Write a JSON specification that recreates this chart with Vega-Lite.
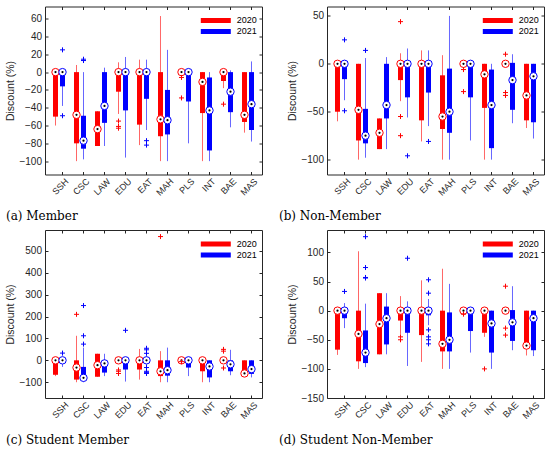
{
  "$schema": "https://vega.github.io/schema/vega-lite/v6.json",
  "background": "white",
  "padding": {"left": 5, "top": 5.5, "right": 5, "bottom": 2},
  "datasets": {
    "boxes": [
      {"p":"a","c":"SSH","y":"2020","lo":-60,"q1":-50,"md":0,"q3":0,"hi":0},
      {"p":"a","c":"SSH","y":"2021","lo":-38,"q1":-16,"md":0,"q3":0,"hi":0},
      {"p":"a","c":"CSC","y":"2020","lo":-100,"q1":-80,"md":-48,"q3":0,"hi":8},
      {"p":"a","c":"CSC","y":"2021","lo":-98,"q1":-86,"md":-77,"q3":-49,"hi":0},
      {"p":"a","c":"LAW","y":"2020","lo":-83,"q1":-83,"md":-64,"q3":-44,"hi":-44},
      {"p":"a","c":"LAW","y":"2021","lo":-83,"q1":-57,"md":-38,"q3":0,"hi":5},
      {"p":"a","c":"EDU","y":"2020","lo":-47,"q1":-22,"md":0,"q3":0,"hi":11},
      {"p":"a","c":"EDU","y":"2021","lo":-96,"q1":-43,"md":0,"q3":0,"hi":17},
      {"p":"a","c":"EAT","y":"2020","lo":-82,"q1":-59,"md":0,"q3":0,"hi":14},
      {"p":"a","c":"EAT","y":"2021","lo":-65,"q1":-30,"md":0,"q3":0,"hi":14},
      {"p":"a","c":"MAH","y":"2020","lo":-100,"q1":-72,"md":-53,"q3":0,"hi":63},
      {"p":"a","c":"MAH","y":"2021","lo":-100,"q1":-70,"md":-54,"q3":-20,"hi":25},
      {"p":"a","c":"PLS","y":"2020","lo":0,"q1":0,"md":0,"q3":0,"hi":0},
      {"p":"a","c":"PLS","y":"2021","lo":-80,"q1":-33,"md":0,"q3":0,"hi":0},
      {"p":"a","c":"INT","y":"2020","lo":-100,"q1":-46,"md":-11,"q3":0,"hi":0},
      {"p":"a","c":"INT","y":"2021","lo":-100,"q1":-88,"md":-43,"q3":-6,"hi":0},
      {"p":"a","c":"BAE","y":"2020","lo":-18,"q1":-10,"md":0,"q3":0,"hi":0},
      {"p":"a","c":"BAE","y":"2021","lo":-62,"q1":-45,"md":-22,"q3":0,"hi":2},
      {"p":"a","c":"MAS","y":"2020","lo":-68,"q1":-56,"md":-48,"q3":0,"hi":0},
      {"p":"a","c":"MAS","y":"2021","lo":-78,"q1":-65,"md":-36,"q3":0,"hi":12},

      {"p":"b","c":"SSH","y":"2020","lo":-60,"q1":-50,"md":0,"q3":0,"hi":0},
      {"p":"b","c":"SSH","y":"2021","lo":-38,"q1":-16,"md":0,"q3":0,"hi":0},
      {"p":"b","c":"CSC","y":"2020","lo":-100,"q1":-80,"md":-48,"q3":0,"hi":0},
      {"p":"b","c":"CSC","y":"2021","lo":-98,"q1":-83,"md":-75,"q3":-47,"hi":6},
      {"p":"b","c":"LAW","y":"2020","lo":-89,"q1":-89,"md":-72,"q3":-57,"hi":-57},
      {"p":"b","c":"LAW","y":"2021","lo":-89,"q1":-57,"md":-43,"q3":0,"hi":7},
      {"p":"b","c":"EDU","y":"2020","lo":-39,"q1":-17,"md":0,"q3":0,"hi":11},
      {"p":"b","c":"EDU","y":"2021","lo":-56,"q1":-35,"md":0,"q3":0,"hi":16},
      {"p":"b","c":"EAT","y":"2020","lo":-81,"q1":-59,"md":0,"q3":0,"hi":14},
      {"p":"b","c":"EAT","y":"2021","lo":-65,"q1":-30,"md":0,"q3":0,"hi":14},
      {"p":"b","c":"MAH","y":"2020","lo":-100,"q1":-68,"md":-55,"q3":-12,"hi":9},
      {"p":"b","c":"MAH","y":"2021","lo":-100,"q1":-72,"md":-50,"q3":-5,"hi":50},
      {"p":"b","c":"PLS","y":"2020","lo":0,"q1":0,"md":0,"q3":0,"hi":0},
      {"p":"b","c":"PLS","y":"2021","lo":-80,"q1":-35,"md":0,"q3":0,"hi":0},
      {"p":"b","c":"INT","y":"2020","lo":-100,"q1":-46,"md":-11,"q3":0,"hi":0},
      {"p":"b","c":"INT","y":"2021","lo":-100,"q1":-88,"md":-43,"q3":-6,"hi":0},
      {"p":"b","c":"BAE","y":"2020","lo":0,"q1":0,"md":0,"q3":0,"hi":0},
      {"p":"b","c":"BAE","y":"2021","lo":-62,"q1":-48,"md":-17,"q3":1,"hi":10},
      {"p":"b","c":"MAS","y":"2020","lo":-67,"q1":-59,"md":-33,"q3":0,"hi":0},
      {"p":"b","c":"MAS","y":"2021","lo":-78,"q1":-61,"md":-13,"q3":0,"hi":0},

      {"p":"c","c":"SSH","y":"2020","lo":-72,"q1":-66,"md":0,"q3":0,"hi":0},
      {"p":"c","c":"SSH","y":"2021","lo":-30,"q1":-10,"md":0,"q3":0,"hi":10},
      {"p":"c","c":"CSC","y":"2020","lo":-100,"q1":-88,"md":-33,"q3":0,"hi":112},
      {"p":"c","c":"CSC","y":"2021","lo":-100,"q1":-90,"md":-80,"q3":-30,"hi":58},
      {"p":"c","c":"LAW","y":"2020","lo":-75,"q1":-75,"md":-22,"q3":30,"hi":30},
      {"p":"c","c":"LAW","y":"2021","lo":-72,"q1":-56,"md":-14,"q3":0,"hi":30},
      {"p":"c","c":"EDU","y":"2020","lo":0,"q1":0,"md":0,"q3":0,"hi":0},
      {"p":"c","c":"EDU","y":"2021","lo":-97,"q1":-42,"md":0,"q3":0,"hi":5},
      {"p":"c","c":"EAT","y":"2020","lo":-88,"q1":-42,"md":0,"q3":0,"hi":52},
      {"p":"c","c":"EAT","y":"2021","lo":-25,"q1":-8,"md":0,"q3":0,"hi":20},
      {"p":"c","c":"MAH","y":"2020","lo":-100,"q1":-72,"md":-50,"q3":0,"hi":42},
      {"p":"c","c":"MAH","y":"2021","lo":-100,"q1":-70,"md":-45,"q3":0,"hi":58},
      {"p":"c","c":"PLS","y":"2020","lo":0,"q1":0,"md":0,"q3":0,"hi":0},
      {"p":"c","c":"PLS","y":"2021","lo":-72,"q1":-33,"md":0,"q3":0,"hi":0},
      {"p":"c","c":"INT","y":"2020","lo":-100,"q1":-50,"md":0,"q3":0,"hi":0},
      {"p":"c","c":"INT","y":"2021","lo":-100,"q1":-78,"md":-28,"q3":0,"hi":0},
      {"p":"c","c":"BAE","y":"2020","lo":0,"q1":0,"md":0,"q3":0,"hi":0},
      {"p":"c","c":"BAE","y":"2021","lo":-68,"q1":-50,"md":-18,"q3":0,"hi":48},
      {"p":"c","c":"MAS","y":"2020","lo":-60,"q1":-60,"md":-60,"q3":0,"hi":0},
      {"p":"c","c":"MAS","y":"2021","lo":-78,"q1":-62,"md":-40,"q3":0,"hi":0},

      {"p":"d","c":"SSH","y":"2020","lo":-76,"q1":-67,"md":0,"q3":0,"hi":0},
      {"p":"d","c":"SSH","y":"2021","lo":-30,"q1":-13,"md":0,"q3":0,"hi":13},
      {"p":"d","c":"CSC","y":"2020","lo":-100,"q1":-87,"md":-40,"q3":0,"hi":102},
      {"p":"d","c":"CSC","y":"2021","lo":-97,"q1":-90,"md":-72,"q3":-34,"hi":12},
      {"p":"d","c":"LAW","y":"2020","lo":-75,"q1":-75,"md":-23,"q3":30,"hi":30},
      {"p":"d","c":"LAW","y":"2021","lo":-75,"q1":-58,"md":-13,"q3":7,"hi":30},
      {"p":"d","c":"EDU","y":"2020","lo":-40,"q1":-17,"md":0,"q3":0,"hi":25},
      {"p":"d","c":"EDU","y":"2021","lo":-95,"q1":-38,"md":0,"q3":0,"hi":16},
      {"p":"d","c":"EAT","y":"2020","lo":-88,"q1":-42,"md":0,"q3":0,"hi":52},
      {"p":"d","c":"EAT","y":"2021","lo":-25,"q1":-8,"md":0,"q3":0,"hi":20},
      {"p":"d","c":"MAH","y":"2020","lo":-100,"q1":-70,"md":-57,"q3":0,"hi":72},
      {"p":"d","c":"MAH","y":"2021","lo":-100,"q1":-70,"md":-50,"q3":-3,"hi":46},
      {"p":"d","c":"PLS","y":"2020","lo":0,"q1":0,"md":0,"q3":0,"hi":0},
      {"p":"d","c":"PLS","y":"2021","lo":-72,"q1":-35,"md":0,"q3":0,"hi":0},
      {"p":"d","c":"INT","y":"2020","lo":-45,"q1":-38,"md":0,"q3":0,"hi":0},
      {"p":"d","c":"INT","y":"2021","lo":-100,"q1":-72,"md":-22,"q3":0,"hi":0},
      {"p":"d","c":"BAE","y":"2020","lo":0,"q1":0,"md":0,"q3":0,"hi":0},
      {"p":"d","c":"BAE","y":"2021","lo":-68,"q1":-52,"md":-20,"q3":1,"hi":42},
      {"p":"d","c":"MAS","y":"2020","lo":-77,"q1":-60,"md":-60,"q3":0,"hi":0},
      {"p":"d","c":"MAS","y":"2021","lo":-78,"q1":-68,"md":-13,"q3":0,"hi":0}
    ],
    "outliers": [
      {"p":"a","c":"SSH","y":"2021","v":25},
      {"p":"a","c":"SSH","y":"2021","v":-49},
      {"p":"a","c":"CSC","y":"2021","v":13},
      {"p":"a","c":"CSC","y":"2021","v":14.5},
      {"p":"a","c":"EDU","y":"2020","v":-55},
      {"p":"a","c":"EDU","y":"2020","v":-61},
      {"p":"a","c":"EDU","y":"2020","v":-63},
      {"p":"a","c":"EAT","y":"2021","v":-77},
      {"p":"a","c":"EAT","y":"2021","v":-82},
      {"p":"a","c":"PLS","y":"2020","v":-6},
      {"p":"a","c":"PLS","y":"2020","v":-29},
      {"p":"a","c":"BAE","y":"2020","v":-36},

      {"p":"b","c":"SSH","y":"2021","v":25},
      {"p":"b","c":"SSH","y":"2021","v":-49},
      {"p":"b","c":"CSC","y":"2021","v":14},
      {"p":"b","c":"EDU","y":"2020","v":44},
      {"p":"b","c":"EDU","y":"2020","v":-55},
      {"p":"b","c":"EDU","y":"2020","v":-75},
      {"p":"b","c":"EDU","y":"2021","v":-96},
      {"p":"b","c":"EAT","y":"2021","v":-81},
      {"p":"b","c":"PLS","y":"2020","v":-6},
      {"p":"b","c":"PLS","y":"2020","v":-29},
      {"p":"b","c":"BAE","y":"2020","v":10},
      {"p":"b","c":"BAE","y":"2020","v":-30},
      {"p":"b","c":"BAE","y":"2020","v":-33},

      {"p":"c","c":"SSH","y":"2021","v":33},
      {"p":"c","c":"CSC","y":"2020","v":210},
      {"p":"c","c":"CSC","y":"2021","v":250},
      {"p":"c","c":"CSC","y":"2021","v":112},
      {"p":"c","c":"CSC","y":"2021","v":74},
      {"p":"c","c":"EDU","y":"2020","v":-44},
      {"p":"c","c":"EDU","y":"2020","v":-50},
      {"p":"c","c":"EDU","y":"2020","v":-60},
      {"p":"c","c":"EDU","y":"2021","v":137},
      {"p":"c","c":"EAT","y":"2021","v":55},
      {"p":"c","c":"EAT","y":"2021","v":48},
      {"p":"c","c":"EAT","y":"2021","v":32},
      {"p":"c","c":"EAT","y":"2021","v":-33},
      {"p":"c","c":"EAT","y":"2021","v":-50},
      {"p":"c","c":"EAT","y":"2021","v":-55},
      {"p":"c","c":"EAT","y":"2021","v":-60},
      {"p":"c","c":"MAH","y":"2020","v":565},
      {"p":"c","c":"PLS","y":"2020","v":-6},
      {"p":"c","c":"BAE","y":"2020","v":50},
      {"p":"c","c":"BAE","y":"2020","v":42},
      {"p":"c","c":"BAE","y":"2020","v":-35},

      {"p":"d","c":"SSH","y":"2021","v":33},
      {"p":"d","c":"CSC","y":"2021","v":127},
      {"p":"d","c":"CSC","y":"2021","v":74},
      {"p":"d","c":"CSC","y":"2021","v":56},
      {"p":"d","c":"CSC","y":"2021","v":57},
      {"p":"d","c":"EDU","y":"2020","v":-45},
      {"p":"d","c":"EDU","y":"2020","v":-50},
      {"p":"d","c":"EDU","y":"2021","v":90},
      {"p":"d","c":"EAT","y":"2021","v":53},
      {"p":"d","c":"EAT","y":"2021","v":30},
      {"p":"d","c":"EAT","y":"2021","v":-33},
      {"p":"d","c":"EAT","y":"2021","v":-45},
      {"p":"d","c":"EAT","y":"2021","v":-50},
      {"p":"d","c":"EAT","y":"2021","v":-57},
      {"p":"d","c":"PLS","y":"2020","v":-6},
      {"p":"d","c":"INT","y":"2020","v":-100},
      {"p":"d","c":"BAE","y":"2020","v":42},
      {"p":"d","c":"BAE","y":"2020","v":-30},
      {"p":"d","c":"BAE","y":"2020","v":-42}
    ]
  },
  "columns": 2,
  "bounds": "flush",
  "spacing": {"row": 55.5, "column": 65},
  "resolve": {"scale": {"color": "independent"}, "legend": {"color": "independent"}},
  "concat": [
    {
      "width": 217, "height": 168,
      "title": {"text": "(a) Member", "orient": "bottom", "anchor": "start", "frame": "group", "dx": -39, "offset": 14},
      "resolve": {"axis": {"x": "independent", "y": "independent"}},
      "layer": [
        {
          "data": {"name": "boxes"}, "transform": [{"filter": "datum.p == 'a'"}],
          "mark": {"type": "rule", "strokeWidth": 1, "opacity": 0.6},
          "encoding": {
            "x": {"field": "c", "type": "nominal", "sort": ["SSH","CSC","LAW","EDU","EAT","MAH","PLS","INT","BAE","MAS"], "scale": {"type": "band", "paddingInner": 0, "paddingOuter": 0.167}, "axis": {"title": null, "orient": "bottom", "bandPosition": 0.667, "labelAngle": -45, "labelAlign": "right", "labelBaseline": "middle", "labelPadding": 8, "labelOffset": 8, "labelFontSize": 9}},
            "xOffset": {"field": "y", "type": "nominal", "scale": {"type": "band", "paddingInner": 0, "paddingOuter": 0.5}},
            "y": {"field": "lo", "type": "quantitative", "scale": {"domain": [-115, 73.7], "nice": false, "zero": false}, "axis": {"title": "Discount (%)", "orient": "left", "values": [-100,-80,-60,-40,-20,0,20,40,60]}},
            "y2": {"field": "hi"},
            "color": {"field": "y", "type": "nominal", "scale": {"domain": ["2020","2021"], "range": ["#ff0000","#0000ff"]}, "legend": {"orient": "none", "legendX": 153.3, "legendY": 8.6, "title": null}}
          }
        },
        {
          "data": {"name": "boxes"}, "transform": [{"filter": "datum.p == 'a'"}],
          "mark": {"type": "rule", "strokeWidth": 5, "strokeCap": "butt"},
          "encoding": {
            "x": {"field": "c", "type": "nominal", "sort": ["SSH","CSC","LAW","EDU","EAT","MAH","PLS","INT","BAE","MAS"], "axis": {"orient": "top", "labels": false, "title": null, "bandPosition": 0.667}},
            "xOffset": {"field": "y", "type": "nominal"},
            "y": {"field": "q1", "type": "quantitative", "axis": {"orient": "right", "labels": false, "title": null, "values": [-100,-80,-60,-40,-20,0,20,40,60]}},
            "y2": {"field": "q3"},
            "color": {"field": "y", "type": "nominal", "legend": {"orient": "none", "legendX": 153.3, "legendY": 8.6, "title": null}}
          }
        },
        {
          "data": {"name": "boxes"}, "transform": [{"filter": "datum.p == 'a'"}],
          "mark": {"type": "point", "filled": false, "fill": "white", "fillOpacity": 1, "opacity": 1, "strokeWidth": 1, "size": 55},
          "encoding": {
            "x": {"field": "c", "type": "nominal", "sort": ["SSH","CSC","LAW","EDU","EAT","MAH","PLS","INT","BAE","MAS"], "axis": null},
            "xOffset": {"field": "y", "type": "nominal"},
            "y": {"field": "md", "type": "quantitative", "axis": null},
            "color": {"field": "y", "type": "nominal", "legend": {"orient": "none", "legendX": 153.3, "legendY": 8.6, "title": null}}
          }
        },
        {
          "data": {"name": "boxes"}, "transform": [{"filter": "datum.p == 'a'"}],
          "mark": {"type": "point", "filled": true, "color": "black", "opacity": 1, "size": 5},
          "encoding": {
            "x": {"field": "c", "type": "nominal", "sort": ["SSH","CSC","LAW","EDU","EAT","MAH","PLS","INT","BAE","MAS"], "axis": null},
            "xOffset": {"field": "y", "type": "nominal"},
            "y": {"field": "md", "type": "quantitative", "axis": null}
          }
        },
        {
          "data": {"name": "outliers"}, "transform": [{"filter": "datum.p == 'a'"}],
          "mark": {"type": "point", "shape": "M-1,0H1M0,-1V1", "filled": false, "opacity": 1, "strokeWidth": 1, "size": 25},
          "encoding": {
            "x": {"field": "c", "type": "nominal", "sort": ["SSH","CSC","LAW","EDU","EAT","MAH","PLS","INT","BAE","MAS"], "axis": null},
            "xOffset": {"field": "y", "type": "nominal"},
            "y": {"field": "v", "type": "quantitative", "axis": null},
            "color": {"field": "y", "type": "nominal", "legend": {"orient": "none", "legendX": 153.3, "legendY": 8.6, "title": null}}
          }
        }
      ]
    },
    {
      "width": 217, "height": 168,
      "title": {"text": "(b) Non-Member", "orient": "bottom", "anchor": "start", "frame": "group", "dx": -48, "offset": 14},
      "resolve": {"axis": {"x": "independent", "y": "independent"}},
      "layer": [
        {
          "data": {"name": "boxes"}, "transform": [{"filter": "datum.p == 'b'"}],
          "mark": {"type": "rule", "strokeWidth": 1, "opacity": 0.6},
          "encoding": {
            "x": {"field": "c", "type": "nominal", "sort": ["SSH","CSC","LAW","EDU","EAT","MAH","PLS","INT","BAE","MAS"], "scale": {"type": "band", "paddingInner": 0, "paddingOuter": 0.167}, "axis": {"title": null, "orient": "bottom", "bandPosition": 0.667, "labelAngle": -45, "labelAlign": "right", "labelBaseline": "middle", "labelPadding": 8, "labelOffset": 8, "labelFontSize": 9}},
            "xOffset": {"field": "y", "type": "nominal", "scale": {"type": "band", "paddingInner": 0, "paddingOuter": 0.5}},
            "y": {"field": "lo", "type": "quantitative", "scale": {"domain": [-115.5, 59.8], "nice": false, "zero": false}, "axis": {"title": "Discount (%)", "orient": "left", "values": [-100,-50,0,50]}},
            "y2": {"field": "hi"},
            "color": {"field": "y", "type": "nominal", "scale": {"domain": ["2020","2021"], "range": ["#ff0000","#0000ff"]}, "legend": {"orient": "none", "legendX": 153.3, "legendY": 8.6, "title": null}}
          }
        },
        {
          "data": {"name": "boxes"}, "transform": [{"filter": "datum.p == 'b'"}],
          "mark": {"type": "rule", "strokeWidth": 5, "strokeCap": "butt"},
          "encoding": {
            "x": {"field": "c", "type": "nominal", "sort": ["SSH","CSC","LAW","EDU","EAT","MAH","PLS","INT","BAE","MAS"], "axis": {"orient": "top", "labels": false, "title": null, "bandPosition": 0.667}},
            "xOffset": {"field": "y", "type": "nominal"},
            "y": {"field": "q1", "type": "quantitative", "axis": {"orient": "right", "labels": false, "title": null, "values": [-100,-50,0,50]}},
            "y2": {"field": "q3"},
            "color": {"field": "y", "type": "nominal", "legend": {"orient": "none", "legendX": 153.3, "legendY": 8.6, "title": null}}
          }
        },
        {
          "data": {"name": "boxes"}, "transform": [{"filter": "datum.p == 'b'"}],
          "mark": {"type": "point", "filled": false, "fill": "white", "fillOpacity": 1, "opacity": 1, "strokeWidth": 1, "size": 55},
          "encoding": {
            "x": {"field": "c", "type": "nominal", "sort": ["SSH","CSC","LAW","EDU","EAT","MAH","PLS","INT","BAE","MAS"], "axis": null},
            "xOffset": {"field": "y", "type": "nominal"},
            "y": {"field": "md", "type": "quantitative", "axis": null},
            "color": {"field": "y", "type": "nominal", "legend": {"orient": "none", "legendX": 153.3, "legendY": 8.6, "title": null}}
          }
        },
        {
          "data": {"name": "boxes"}, "transform": [{"filter": "datum.p == 'b'"}],
          "mark": {"type": "point", "filled": true, "color": "black", "opacity": 1, "size": 5},
          "encoding": {
            "x": {"field": "c", "type": "nominal", "sort": ["SSH","CSC","LAW","EDU","EAT","MAH","PLS","INT","BAE","MAS"], "axis": null},
            "xOffset": {"field": "y", "type": "nominal"},
            "y": {"field": "md", "type": "quantitative", "axis": null}
          }
        },
        {
          "data": {"name": "outliers"}, "transform": [{"filter": "datum.p == 'b'"}],
          "mark": {"type": "point", "shape": "M-1,0H1M0,-1V1", "filled": false, "opacity": 1, "strokeWidth": 1, "size": 25},
          "encoding": {
            "x": {"field": "c", "type": "nominal", "sort": ["SSH","CSC","LAW","EDU","EAT","MAH","PLS","INT","BAE","MAS"], "axis": null},
            "xOffset": {"field": "y", "type": "nominal"},
            "y": {"field": "v", "type": "quantitative", "axis": null},
            "color": {"field": "y", "type": "nominal", "legend": {"orient": "none", "legendX": 153.3, "legendY": 8.6, "title": null}}
          }
        }
      ]
    },
    {
      "width": 217, "height": 168,
      "title": {"text": "(c) Student Member", "orient": "bottom", "anchor": "start", "frame": "group", "dx": -39, "offset": 14},
      "resolve": {"axis": {"x": "independent", "y": "independent"}},
      "layer": [
        {
          "data": {"name": "boxes"}, "transform": [{"filter": "datum.p == 'c'"}],
          "mark": {"type": "rule", "strokeWidth": 1, "opacity": 0.6},
          "encoding": {
            "x": {"field": "c", "type": "nominal", "sort": ["SSH","CSC","LAW","EDU","EAT","MAH","PLS","INT","BAE","MAS"], "scale": {"type": "band", "paddingInner": 0, "paddingOuter": 0.167}, "axis": {"title": null, "orient": "bottom", "bandPosition": 0.667, "labelAngle": -45, "labelAlign": "right", "labelBaseline": "middle", "labelPadding": 8, "labelOffset": 8, "labelFontSize": 9}},
            "xOffset": {"field": "y", "type": "nominal", "scale": {"type": "band", "paddingInner": 0, "paddingOuter": 0.5}},
            "y": {"field": "lo", "type": "quantitative", "scale": {"domain": [-172, 595], "nice": false, "zero": false}, "axis": {"title": "Discount (%)", "orient": "left", "values": [-100,0,100,200,300,400,500]}},
            "y2": {"field": "hi"},
            "color": {"field": "y", "type": "nominal", "scale": {"domain": ["2020","2021"], "range": ["#ff0000","#0000ff"]}, "legend": {"orient": "none", "legendX": 153.3, "legendY": 8.6, "title": null}}
          }
        },
        {
          "data": {"name": "boxes"}, "transform": [{"filter": "datum.p == 'c'"}],
          "mark": {"type": "rule", "strokeWidth": 5, "strokeCap": "butt"},
          "encoding": {
            "x": {"field": "c", "type": "nominal", "sort": ["SSH","CSC","LAW","EDU","EAT","MAH","PLS","INT","BAE","MAS"], "axis": {"orient": "top", "labels": false, "title": null, "bandPosition": 0.667}},
            "xOffset": {"field": "y", "type": "nominal"},
            "y": {"field": "q1", "type": "quantitative", "axis": {"orient": "right", "labels": false, "title": null, "values": [-100,0,100,200,300,400,500]}},
            "y2": {"field": "q3"},
            "color": {"field": "y", "type": "nominal", "legend": {"orient": "none", "legendX": 153.3, "legendY": 8.6, "title": null}}
          }
        },
        {
          "data": {"name": "boxes"}, "transform": [{"filter": "datum.p == 'c'"}],
          "mark": {"type": "point", "filled": false, "fill": "white", "fillOpacity": 1, "opacity": 1, "strokeWidth": 1, "size": 55},
          "encoding": {
            "x": {"field": "c", "type": "nominal", "sort": ["SSH","CSC","LAW","EDU","EAT","MAH","PLS","INT","BAE","MAS"], "axis": null},
            "xOffset": {"field": "y", "type": "nominal"},
            "y": {"field": "md", "type": "quantitative", "axis": null},
            "color": {"field": "y", "type": "nominal", "legend": {"orient": "none", "legendX": 153.3, "legendY": 8.6, "title": null}}
          }
        },
        {
          "data": {"name": "boxes"}, "transform": [{"filter": "datum.p == 'c'"}],
          "mark": {"type": "point", "filled": true, "color": "black", "opacity": 1, "size": 5},
          "encoding": {
            "x": {"field": "c", "type": "nominal", "sort": ["SSH","CSC","LAW","EDU","EAT","MAH","PLS","INT","BAE","MAS"], "axis": null},
            "xOffset": {"field": "y", "type": "nominal"},
            "y": {"field": "md", "type": "quantitative", "axis": null}
          }
        },
        {
          "data": {"name": "outliers"}, "transform": [{"filter": "datum.p == 'c'"}],
          "mark": {"type": "point", "shape": "M-1,0H1M0,-1V1", "filled": false, "opacity": 1, "strokeWidth": 1, "size": 25},
          "encoding": {
            "x": {"field": "c", "type": "nominal", "sort": ["SSH","CSC","LAW","EDU","EAT","MAH","PLS","INT","BAE","MAS"], "axis": null},
            "xOffset": {"field": "y", "type": "nominal"},
            "y": {"field": "v", "type": "quantitative", "axis": null},
            "color": {"field": "y", "type": "nominal", "legend": {"orient": "none", "legendX": 153.3, "legendY": 8.6, "title": null}}
          }
        }
      ]
    },
    {
      "width": 217, "height": 168,
      "title": {"text": "(d) Student Non-Member", "orient": "bottom", "anchor": "start", "frame": "group", "dx": -48, "offset": 14},
      "resolve": {"axis": {"x": "independent", "y": "independent"}},
      "layer": [
        {
          "data": {"name": "boxes"}, "transform": [{"filter": "datum.p == 'd'"}],
          "mark": {"type": "rule", "strokeWidth": 1, "opacity": 0.6},
          "encoding": {
            "x": {"field": "c", "type": "nominal", "sort": ["SSH","CSC","LAW","EDU","EAT","MAH","PLS","INT","BAE","MAS"], "scale": {"type": "band", "paddingInner": 0, "paddingOuter": 0.167}, "axis": {"title": null, "orient": "bottom", "bandPosition": 0.667, "labelAngle": -45, "labelAlign": "right", "labelBaseline": "middle", "labelPadding": 8, "labelOffset": 8, "labelFontSize": 9}},
            "xOffset": {"field": "y", "type": "nominal", "scale": {"type": "band", "paddingInner": 0, "paddingOuter": 0.5}},
            "y": {"field": "lo", "type": "quantitative", "scale": {"domain": [-150, 138.5], "nice": false, "zero": false}, "axis": {"title": "Discount (%)", "orient": "left", "values": [-150,-100,-50,0,50,100]}},
            "y2": {"field": "hi"},
            "color": {"field": "y", "type": "nominal", "scale": {"domain": ["2020","2021"], "range": ["#ff0000","#0000ff"]}, "legend": {"orient": "none", "legendX": 153.3, "legendY": 8.6, "title": null}}
          }
        },
        {
          "data": {"name": "boxes"}, "transform": [{"filter": "datum.p == 'd'"}],
          "mark": {"type": "rule", "strokeWidth": 5, "strokeCap": "butt"},
          "encoding": {
            "x": {"field": "c", "type": "nominal", "sort": ["SSH","CSC","LAW","EDU","EAT","MAH","PLS","INT","BAE","MAS"], "axis": {"orient": "top", "labels": false, "title": null, "bandPosition": 0.667}},
            "xOffset": {"field": "y", "type": "nominal"},
            "y": {"field": "q1", "type": "quantitative", "axis": {"orient": "right", "labels": false, "title": null, "values": [-150,-100,-50,0,50,100]}},
            "y2": {"field": "q3"},
            "color": {"field": "y", "type": "nominal", "legend": {"orient": "none", "legendX": 153.3, "legendY": 8.6, "title": null}}
          }
        },
        {
          "data": {"name": "boxes"}, "transform": [{"filter": "datum.p == 'd'"}],
          "mark": {"type": "point", "filled": false, "fill": "white", "fillOpacity": 1, "opacity": 1, "strokeWidth": 1, "size": 55},
          "encoding": {
            "x": {"field": "c", "type": "nominal", "sort": ["SSH","CSC","LAW","EDU","EAT","MAH","PLS","INT","BAE","MAS"], "axis": null},
            "xOffset": {"field": "y", "type": "nominal"},
            "y": {"field": "md", "type": "quantitative", "axis": null},
            "color": {"field": "y", "type": "nominal", "legend": {"orient": "none", "legendX": 153.3, "legendY": 8.6, "title": null}}
          }
        },
        {
          "data": {"name": "boxes"}, "transform": [{"filter": "datum.p == 'd'"}],
          "mark": {"type": "point", "filled": true, "color": "black", "opacity": 1, "size": 5},
          "encoding": {
            "x": {"field": "c", "type": "nominal", "sort": ["SSH","CSC","LAW","EDU","EAT","MAH","PLS","INT","BAE","MAS"], "axis": null},
            "xOffset": {"field": "y", "type": "nominal"},
            "y": {"field": "md", "type": "quantitative", "axis": null}
          }
        },
        {
          "data": {"name": "outliers"}, "transform": [{"filter": "datum.p == 'd'"}],
          "mark": {"type": "point", "shape": "M-1,0H1M0,-1V1", "filled": false, "opacity": 1, "strokeWidth": 1, "size": 25},
          "encoding": {
            "x": {"field": "c", "type": "nominal", "sort": ["SSH","CSC","LAW","EDU","EAT","MAH","PLS","INT","BAE","MAS"], "axis": null},
            "xOffset": {"field": "y", "type": "nominal"},
            "y": {"field": "v", "type": "quantitative", "axis": null},
            "color": {"field": "y", "type": "nominal", "legend": {"orient": "none", "legendX": 153.3, "legendY": 8.6, "title": null}}
          }
        }
      ]
    }
  ],
  "config": {
    "view": {"stroke": "#262626", "strokeWidth": 1},
    "axis": {"domain": false, "grid": false, "tickSize": -3, "tickColor": "#262626", "labelOverlap": false, "labelFont": "Liberation Sans", "labelFontSize": 10, "labelColor": "#262626", "titleFont": "Liberation Sans", "titleFontSize": 10.5, "titleFontWeight": "normal", "titleColor": "#262626"},
    "axisLeft": {"labelPadding": 6.5, "titlePadding": 3},
    "legend": {"symbolType": "M-1,0H5", "symbolStrokeWidth": 5, "symbolSize": 100, "symbolOpacity": 1, "labelFont": "Liberation Sans", "labelFontSize": 9, "labelColor": "black", "labelOffset": 23.4, "rowPadding": 0, "clipHeight": 10.7, "padding": 0},
    "title": {"font": "DejaVu Serif", "fontSize": 12, "fontWeight": "normal", "color": "black"}
  }
}
